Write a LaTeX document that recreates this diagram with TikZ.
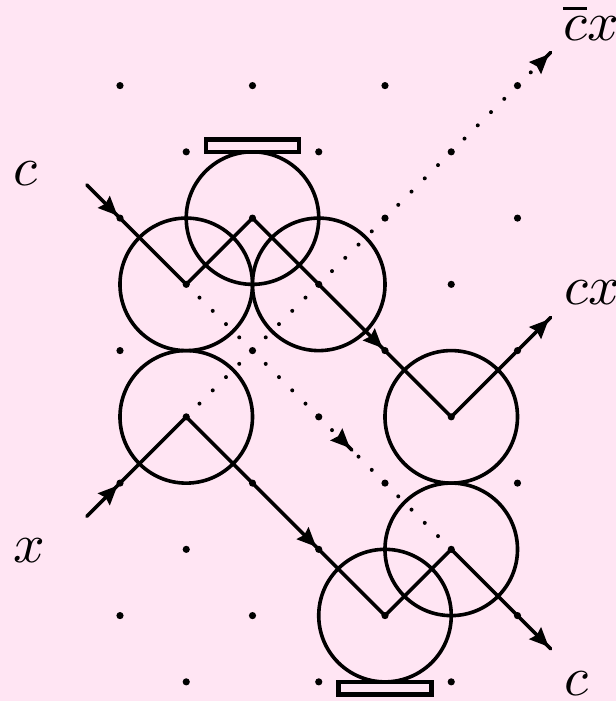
\documentclass[tikz,border=0pt]{standalone}
\definecolor{bgpink}{HTML}{FFE5F3}
\tikzset{
  griddot/.style={circle,fill=black,draw=none,minimum size=5.4pt,inner sep=0pt,outer sep=0pt},
  ring/.style={circle,draw=black,line width=2.7pt,minimum size=99.4pt,inner sep=0pt,outer sep=0pt},
  bar/.style={rectangle,draw=black,line width=3.4pt,fill=bgpink,minimum width=70pt,minimum height=9.4pt,inner sep=0pt,outer sep=0pt},
  wire/.style={draw=black,line width=2.7pt,line cap=round,line join=round},
  dotline/.style={draw=black,line width=3pt,line cap=round,dash pattern=on 0pt off 14.054pt},
  lab/.style={anchor=base west,inner sep=0pt,outer sep=0pt,scale=4.15},
  pics/beamhead/.style={code={\fill[black] (0pt,0pt) -- (-14.5pt,6.5pt) -- (-12.5pt,0pt) -- (-14.5pt,-6.5pt) -- cycle;}},
}
\begin{document}
\begin{tikzpicture}[x=49.6875pt,y=-49.6875pt]
\fill[bgpink] (-1.8113,-1.2921) rectangle (7.4868,9.2891);
\useasboundingbox (-1.8113,-1.2921) rectangle (7.4868,9.2891);
% lattice dots
\foreach \k in {0,2,4,6,8} \foreach \i in {0,2,4,6} \node[griddot] (d\i\k) at (\i,\k) {};
\foreach \k in {1,3,5,7,9} \foreach \i in {1,3,5} \node[griddot] (d\i\k) at (\i,\k) {};
% circles
\node[ring] (r1) at (1,3) {};
\node[ring] (r2) at (2,2) {};
\node[ring] (r3) at (3,3) {};
\node[ring] (r4) at (1,5) {};
\node[ring] (r5) at (5,5) {};
\node[ring] (r6) at (5,7) {};
\node[ring] (r7) at (4,8) {};
% mirrors
\node[bar] (m1) at (2,0.908) {};
\node[bar] (m2) at (4,9.1) {};
% free ends
\coordinate (cin) at (-0.5,1.5);
\coordinate (xin) at (-0.5,6.5);
\coordinate (cxout) at (6.5,3.5);
\coordinate (cout) at (6.5,8.5);
\coordinate (nout) at (6.5,-0.5);
\coordinate (dmid) at (3.5,5.5);
% dotted paths
\draw[dotline] (r4.center) -- (nout);
\draw[dotline] (r1.center) -- (r6.center);
\draw[wire] (6.4,-0.4) -- (nout);
\draw[wire] (3.4,5.4) -- (dmid);
% control beam
\draw[wire] (cin) -- (r1.center) -- (r2.center) -- (r5.center) -- (cxout);
% data beam
\draw[wire] (xin) -- (r4.center) -- (r7.center) -- (r6.center) -- (cout);
% arrowheads
\pic[rotate=-45] at (-0.04,1.96) {beamhead};
\pic[rotate=-45] at (3.96,3.96) {beamhead};
\pic[rotate=45] at (-0.04,6.04) {beamhead};
\pic[rotate=-45] at (2.96,6.96) {beamhead};
\pic[rotate=45] at (6.47,3.53) {beamhead};
\pic[rotate=-45] at (6.47,8.47) {beamhead};
\pic[rotate=45] at (6.47,-0.47) {beamhead};
\pic[rotate=-45] at (3.47,5.47) {beamhead};
% labels
\node[lab] (lc1) at (-1.6,1.515) {$c$};
\node[lab] (lx) at (-1.6,7.2) {$x$};
\node[lab] (lc2) at (6.71,9.21) {$c$};
\node[lab] (lcx) at (6.71,3.31) {$cx$};
\node[lab] (lncx) at (6.69,-0.688) {$\overline{c}x$};
\end{tikzpicture}
\end{document}
